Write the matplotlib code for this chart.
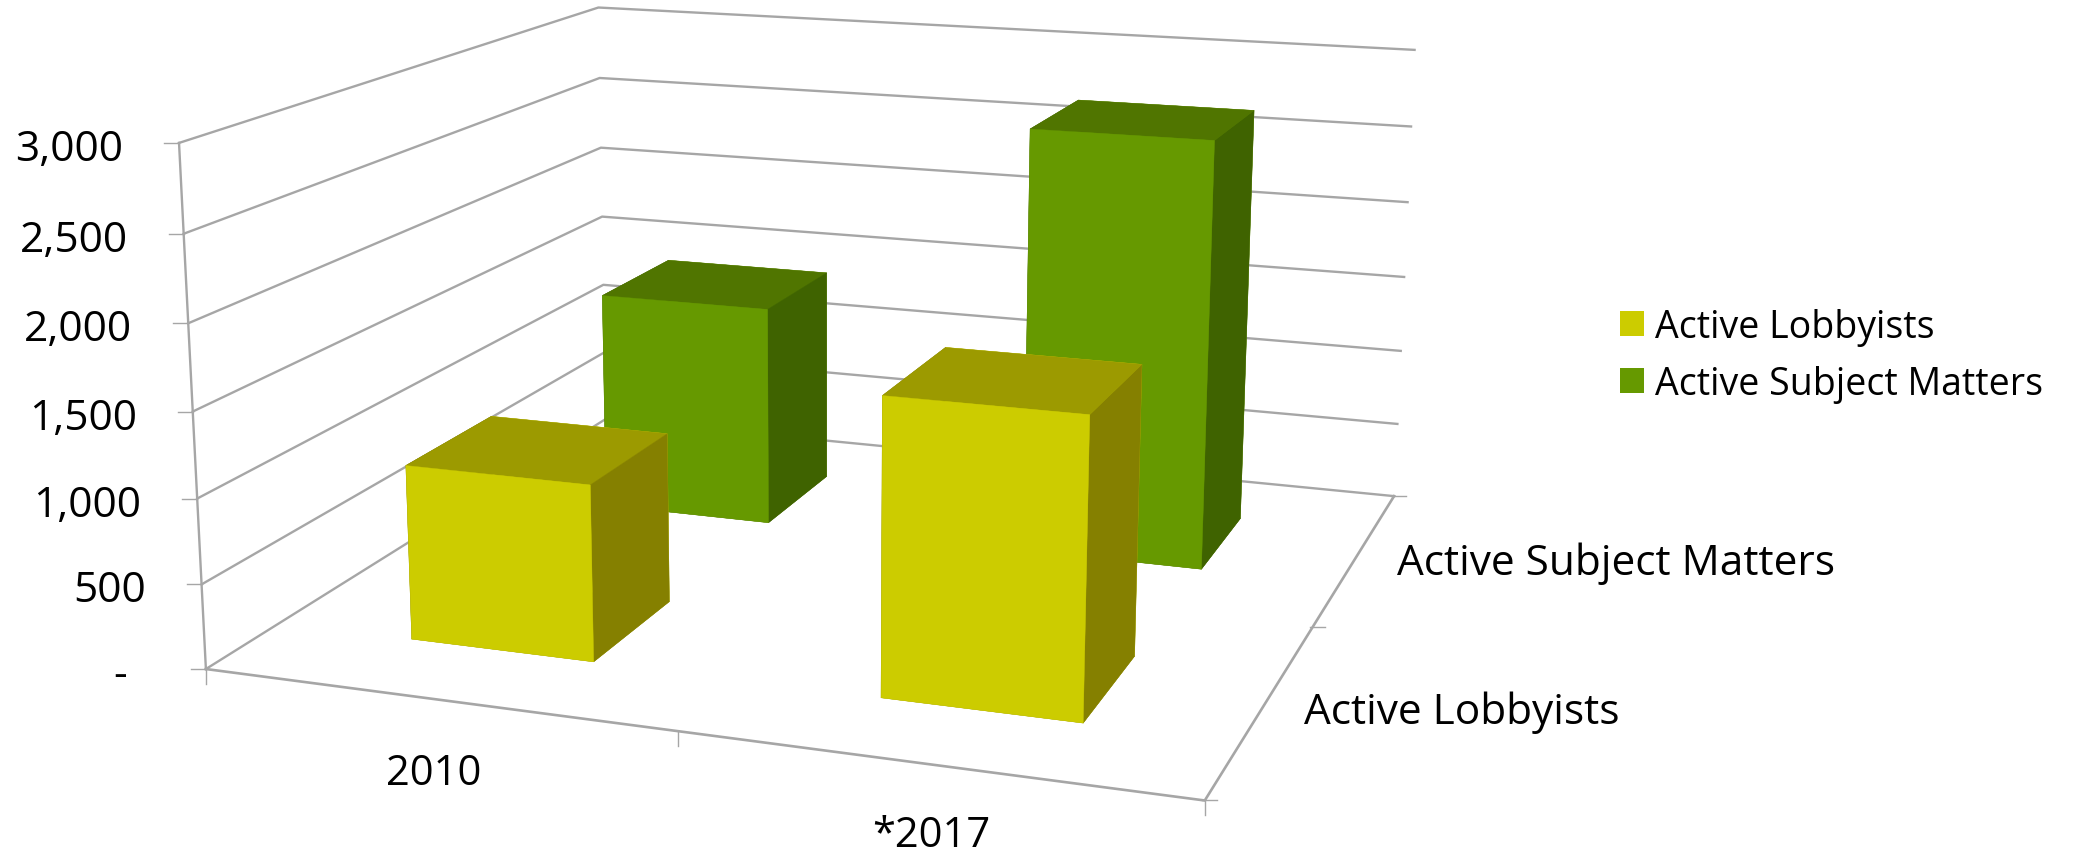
import matplotlib
matplotlib.use("Agg")
import matplotlib.pyplot as plt
from matplotlib.lines import Line2D
from matplotlib.patches import Patch
from matplotlib.transforms import IdentityTransform
from mpl_toolkits.mplot3d import proj3d

# data
years = ["2010", "*2017"]
series = ["Active Lobbyists", "Active Subject Matters"]
lobbyists = [1044, 1716]
subject_matters = [1421, 2691]
z_ticks = [0, 500, 1000, 1500, 2000, 2500, 3000]
z_labels = ["-  ", "500", "1,000", "1,500", "2,000", "2,500", "3,000"]

# front, top, side shades
yellow = ["#CCCC00", "#9C9A00", "#858000"]
green = ["#669900", "#507500", "#3F6300"]
grid = "#A6A6A6"

W, H = 2077, 854
plt.rcParams["font.family"] = ["Open Sans", "DejaVu Sans"]

fig = plt.figure(figsize=(W / 100, H / 100), dpi=100)
# camera and axes box were fitted to the reference
ax = fig.add_axes([145.1 / W, -191.66 / H, 1375.4 / W, 1375.4 / H], projection="3d", computed_zorder=False)
ax.view_init(elev=14.004, azim=-70.755, roll=-0.111)
ax.set_proj_type("persp", focal_length=0.4192)
ax.set_box_aspect((1, 0.9754, 0.5239))
ax.set_xlim(0, 2, view_margin=0)
ax.set_ylim(0, 2, view_margin=0)
ax.set_zlim(0, 3000, view_margin=0)
ax.set_axis_off()
ax.apply_aspect()
M = ax.get_proj()


def px(x, y, z):
    # figure pixel of a point in the axes' data space
    xs, ys, _ = proj3d.proj_transform(x, y, z, M)
    return ax.transData.transform((xs, ys))


def tick(x, y, z, x0, y0, x1, y1):
    cx, cy = px(x, y, z)
    fig.add_artist(Line2D([cx + x0, cx + x1], [cy + y0, cy + y1], color=grid, lw=1, transform=IdentityTransform()))


def label(x, y, z, s, dx, dy, size, ha):
    cx, cy = px(x, y, z)
    fig.text(cx + dx, cy + dy, s, transform=IdentityTransform(), ha=ha, va="center", fontsize=size, color="black")


# walls and floor edges
for z, lab in zip(z_ticks, z_labels):
    ax.plot([0, 0, 2], [0, 2, 2], [z, z, z], color=grid, lw=1.7, zorder=1)
    tick(0, 0, z, -15, 0, 0, 0)
    label(0, 0, z, lab, -56, -6, 30.5, "right")
ax.plot([0, 0], [0, 0], [0, 3000], color=grid, lw=1.7, zorder=1)
ax.plot([0, 2, 2], [0, 0, 2], [0, 0, 0], color=grid, lw=1.9, zorder=1)
for i in range(3):
    tick(i, 0, 0, 0, 0, 0, -15)
    tick(2, i, 0, -3, 0, 12, 0)

# bars, far row first
width = 0.4
for row, vals, cols in [(1, subject_matters, green), (0, lobbyists, yellow)]:
    for cat, v in enumerate(vals):
        front, top, side = cols
        # bar3d face order: bottom, top, front, back, left, right
        faces = [top, top, front, front, side, side]
        ax.bar3d(cat + 0.3, row + 0.3, 0, width, width, v, color=faces, shade=False,
                 edgecolor=faces, linewidth=0.3, zorder=5 + (1 - row) * 5 + cat)

for i, (year, dy) in enumerate(zip(years, (-74, -70))):
    label(i + 0.5, 0, 0, year, -2, dy, 30, "center")
for i, name in enumerate(series):
    label(2, i + 0.5, 0, name, 41, -5, 30.5, "left")

handles = [Patch(facecolor=yellow[0], label=series[0]), Patch(facecolor=green[0], label=series[1])]
fig.legend(handles=handles, loc="upper left", bbox_to_anchor=(1620 / W, 1 - 309 / H), frameon=False, fontsize=27,
           borderpad=0, borderaxespad=0, handlelength=0.64, handleheight=0.64, handletextpad=0.3, labelspacing=0.5)

fig.savefig("out.png", dpi=100)
